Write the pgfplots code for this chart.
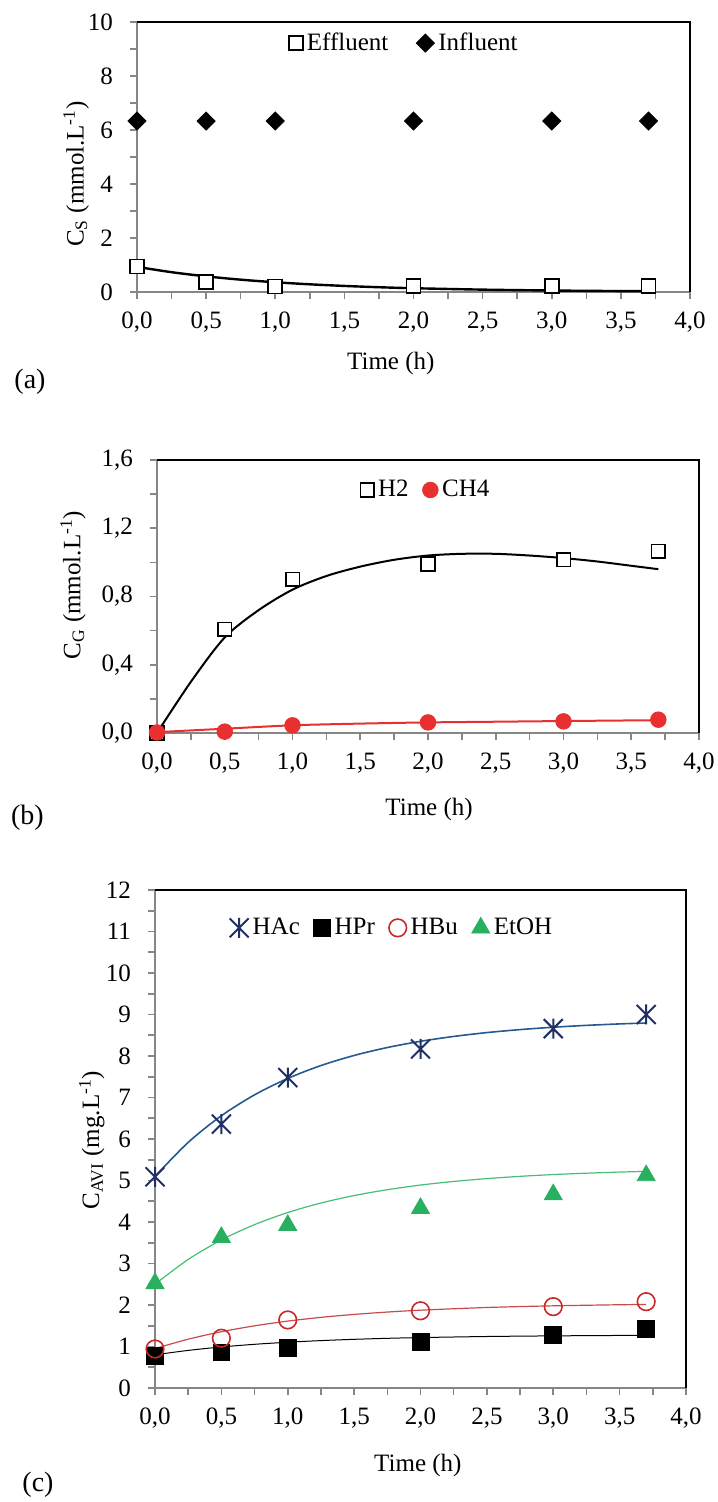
\documentclass[border=0pt]{standalone}
\usepackage{fontspec}
\setmainfont{Liberation Serif}
\usepackage{pgfplots}
\pgfplotsset{compat=1.18}
\pgfdeclareplotmark{xstar}{%
  \pgfpathmoveto{\pgfqpoint{0pt}{\pgfplotmarksize}}%
  \pgfpathlineto{\pgfqpoint{0pt}{-\pgfplotmarksize}}%
  \pgfpathmoveto{\pgfqpoint{-0.95\pgfplotmarksize}{0.95\pgfplotmarksize}}%
  \pgfpathlineto{\pgfqpoint{0.95\pgfplotmarksize}{-0.95\pgfplotmarksize}}%
  \pgfpathmoveto{\pgfqpoint{-0.95\pgfplotmarksize}{-0.95\pgfplotmarksize}}%
  \pgfpathlineto{\pgfqpoint{0.95\pgfplotmarksize}{0.95\pgfplotmarksize}}%
  \pgfusepathqstroke}
\definecolor{hacm}{RGB}{32,48,100}
\definecolor{hacl}{RGB}{36,90,145}
\definecolor{hbum}{RGB}{200,40,40}
\definecolor{hbul}{RGB}{200,75,75}
\definecolor{etm}{RGB}{40,176,96}
\definecolor{etl}{RGB}{70,190,115}
\definecolor{chm}{RGB}{232,48,48}
\definecolor{axgray}{RGB}{134,134,134}
\pgfplotsset{
  myaxis/.style={
    scale only axis, anchor=south west, clip=false,
    xmin=0, xmax=4, xtick={0,0.5,1,1.5,2,2.5,3,3.5,4}, minor x tick num=1,
    axis x line*=bottom, axis y line*=left,
    axis line style={-, draw=axgray, line width=1pt},
    tick align=outside, major tick length=3.5pt, minor tick length=3.5pt,
    tick style={axgray, line width=0.8pt},
    /pgf/number format/assume math mode=true,
    xticklabel style={yshift=-3pt, /pgf/number format/.cd, fixed, fixed zerofill, precision=1, use comma},
    yticklabel style={xshift=-5pt},
    xlabel={Time (h)},
    legend style={draw=none, fill=none, legend columns=-1, anchor=center, inner sep=0pt,
      /tikz/every even column/.append style={column sep=5pt}},
    legend image code/.code={\draw[mark repeat=2,mark phase=2,#1] plot coordinates {(0cm,0cm)(0.16cm,0cm)(0.32cm,0cm)};},
  }
}
\begin{document}
\begin{tikzpicture}[font=\fontsize{12.5}{15}\selectfont]
\useasboundingbox (0,0) rectangle (358.5pt,751pt);

% ---------------- (a)
\begin{axis}[myaxis, at={(68.5pt,605pt)}, width=276.5pt, height=135pt,
  ymin=0, ymax=10, ytick={0,2,4,6,8,10}, minor y tick num=1,
  ylabel={C\textsubscript{S} (mmol.L\textsuperscript{-1})},
  ylabel style={at={(axis description cs:-0.110,0.437)}, anchor=center},
  xlabel style={at={(axis description cs:0.459,-0.263)}, anchor=center},
  legend style={at={(axis description cs:0.485,0.922)}, /tikz/every even column/.append style={column sep=12pt}},
]
\draw[black, line width=1pt] (rel axis cs:0,1) -- (rel axis cs:1,1) -- (rel axis cs:1,0);
\addplot[black, line width=1.2pt, smooth, forget plot] coordinates {
 (0,0.93)(0.25,0.733)(0.5,0.578)(0.75,0.456)(1,0.360)(1.25,0.284)(1.5,0.224)(1.75,0.176)(2,0.139)(2.5,0.087)(3,0.054)(3.5,0.033)(3.7,0.028)};
\addplot[only marks, mark=square*, mark size=3.5pt, mark options={fill=white, draw=black, line width=0.8pt}] coordinates {
 (0,0.95)(0.5,0.37)(1,0.2)(2,0.22)(3,0.22)(3.7,0.22)};
\addlegendentry{Effluent}
\addplot[only marks, mark=square*, mark size=3.2pt, mark options={rotate=45, fill=black, draw=black}] coordinates {
 (0,6.33)(0.5,6.33)(1,6.33)(2,6.33)(3,6.33)(3.7,6.33)};
\addlegendentry{Influent}
\end{axis}

% ---------------- (b)
\begin{axis}[myaxis, at={(78.5pt,384.5pt)}, width=271pt, height=136.5pt,
  ymin=0, ymax=1.6, ytick={0,0.4,0.8,1.2,1.6}, minor y tick num=1,
  yticklabel style={/pgf/number format/.cd, fixed, fixed zerofill, precision=1, use comma},
  ylabel={C\textsubscript{G} (mmol.L\textsuperscript{-1})},
  ylabel style={at={(axis description cs:-0.155,0.542)}, anchor=center},
  xlabel style={at={(axis description cs:0.502,-0.282)}, anchor=center},
  legend style={at={(axis description cs:0.498,0.890)}},
]
\draw[black, line width=1pt] (rel axis cs:0,1) -- (rel axis cs:1,1) -- (rel axis cs:1,0);
\addplot[black, line width=1pt, smooth, forget plot] coordinates {
 (0,0)(0.25,0.30)(0.5,0.56)(0.75,0.72)(1,0.84)(1.25,0.92)(1.5,0.975)(1.75,1.015)(2,1.04)(2.25,1.05)(2.5,1.05)(2.75,1.04)(3,1.025)(3.25,1.005)(3.5,0.98)(3.7,0.96)};
\addplot[chm, line width=1pt, smooth, forget plot] coordinates {
 (0,0.005)(0.5,0.025)(1,0.045)(1.5,0.055)(2,0.062)(2.5,0.066)(3,0.07)(3.7,0.075)};
\addplot[only marks, mark=square*, mark size=3.4pt, mark options={fill=white, draw=black, line width=0.8pt}] coordinates {
 (0,0)(0.5,0.607)(1,0.90)(2,0.99)(3,1.016)(3.7,1.065)};
\addlegendentry{H2}
\addplot[only marks, mark=*, mark size=3.9pt, mark options={fill=chm, draw=chm}] coordinates {
 (0,0.003)(0.5,0.008)(1,0.045)(2,0.062)(3,0.068)(3.7,0.078)};
\addlegendentry{CH4}
\end{axis}

% ---------------- (c)
\begin{axis}[myaxis, at={(77.5pt,57pt)}, width=265.5pt, height=249pt,
  ymin=0, ymax=12, ytick={0,1,2,3,4,5,6,7,8,9,10,11,12}, minor y tick num=1,
  ylabel={C\textsubscript{AVI} (mg.L\textsuperscript{-1})},
  ylabel style={at={(axis description cs:-0.119,0.498)}, anchor=center},
  xlabel style={at={(axis description cs:0.495,-0.155)}, anchor=center},
  legend style={at={(axis description cs:0.448,0.924)}},
]
\draw[black, line width=1pt] (rel axis cs:0,1) -- (rel axis cs:1,1) -- (rel axis cs:1,0);
\addplot[hacl, line width=0.8pt, smooth, forget plot] coordinates {
 (0,5.1)(0.25,5.918)(0.5,6.560)(0.75,7.064)(1,7.459)(1.25,7.770)(1.5,8.013)(1.75,8.204)(2,8.354)(2.25,8.471)(2.5,8.564)(2.75,8.636)(3,8.693)(3.25,8.738)(3.5,8.773)(3.7,8.795)};
\addplot[black, line width=0.5pt, smooth, forget plot] coordinates {
 (0,0.8)(0.25,0.906)(0.5,0.989)(0.75,1.053)(1,1.103)(1.25,1.142)(1.5,1.173)(1.75,1.197)(2,1.215)(2.5,1.241)(3,1.256)(3.5,1.266)(3.7,1.268)};
\addplot[hbul, line width=0.6pt, smooth, forget plot] coordinates {
 (0,0.95)(0.25,1.176)(0.5,1.356)(0.75,1.498)(1,1.612)(1.25,1.702)(1.5,1.773)(1.75,1.830)(2,1.875)(2.5,1.940)(3,1.980)(3.5,2.006)(3.7,2.013)};
\addplot[etl, line width=0.6pt, smooth, forget plot] coordinates {
 (0,2.5)(0.25,3.098)(0.5,3.567)(0.75,3.937)(1,4.228)(1.25,4.457)(1.5,4.637)(1.75,4.778)(2,4.890)(2.25,4.977)(2.5,5.046)(2.75,5.100)(3,5.143)(3.25,5.176)(3.5,5.203)(3.7,5.220)};
\addplot[only marks, mark=xstar, mark size=5pt, mark options={draw=hacm, line width=1pt}] coordinates {
 (0,5.09)(0.5,6.36)(1,7.48)(2,8.17)(3,8.66)(3.7,9.0)};
\addlegendentry{HAc}
\addplot[only marks, mark=square*, mark size=4.2pt, mark options={fill=black, draw=black}] coordinates {
 (0,0.78)(0.5,0.86)(1,0.96)(2,1.12)(3,1.28)(3.7,1.43)};
\addlegendentry{HPr}
\addplot[only marks, mark=o, mark size=4.4pt, mark options={draw=hbum, line width=0.8pt}] coordinates {
 (0,0.94)(0.5,1.20)(1,1.64)(2,1.86)(3,1.96)(3.7,2.08)};
\addlegendentry{HBu}
\addplot[only marks, mark=triangle*, mark size=5.2pt, mark options={fill=etm, draw=etm}] coordinates {
 (0,2.52)(0.5,3.63)(1,3.92)(2,4.33)(3,4.66)(3.7,5.12)};
\addlegendentry{EtOH}
\end{axis}

\node[font=\fontsize{14}{16}\selectfont] at (15pt,560pt) {(a)};
\node[font=\fontsize{14}{16}\selectfont] at (13.75pt,342pt) {(b)};
\node[font=\fontsize{14}{16}\selectfont] at (19pt,8.5pt) {(c)};
\end{tikzpicture}
\end{document}
